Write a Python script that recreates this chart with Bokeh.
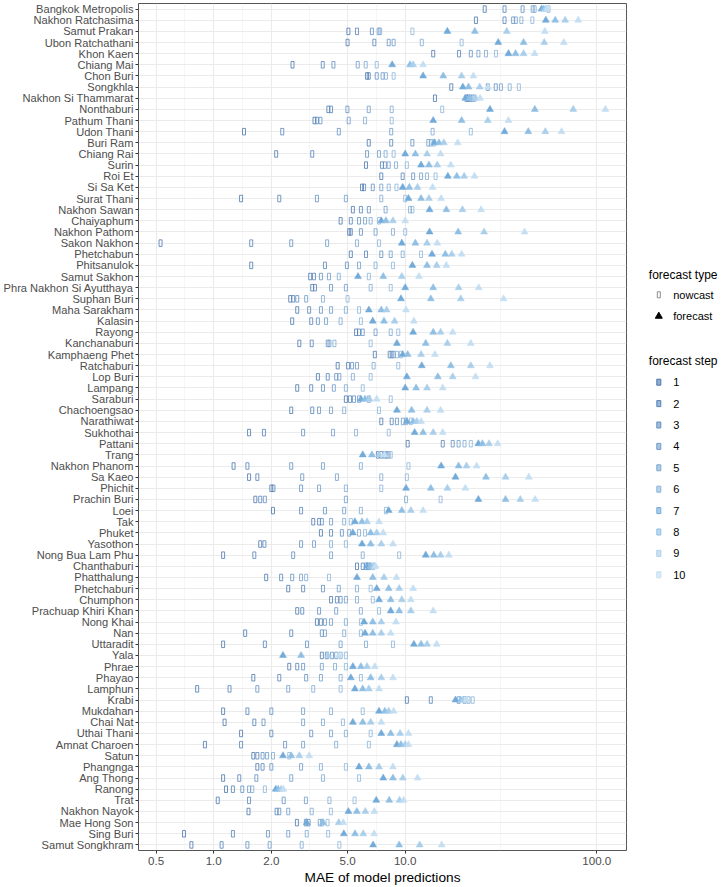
from bokeh.plotting import figure
from bokeh.models import Range1d, FactorRange, FixedTicker, PrintfTickFormatter, ColumnDataSource
from bokeh.layouts import row
from bokeh.core.properties import value
from bokeh.embed import file_html
from bokeh.resources import INLINE

provinces = [
    "Bangkok Metropolis", "Nakhon Ratchasima", "Samut Prakan", "Ubon Ratchathani", "Khon Kaen",
    "Chiang Mai", "Chon Buri", "Songkhla", "Nakhon Si Thammarat", "Nonthaburi", "Pathum Thani",
    "Udon Thani", "Buri Ram", "Chiang Rai", "Surin", "Roi Et", "Si Sa Ket", "Surat Thani",
    "Nakhon Sawan", "Chaiyaphum", "Nakhon Pathom", "Sakon Nakhon", "Phetchabun", "Phitsanulok",
    "Samut Sakhon", "Phra Nakhon Si Ayutthaya", "Suphan Buri", "Maha Sarakham", "Kalasin",
    "Rayong", "Kanchanaburi", "Kamphaeng Phet", "Ratchaburi", "Lop Buri", "Lampang", "Saraburi",
    "Chachoengsao", "Narathiwat", "Sukhothai", "Pattani", "Trang", "Nakhon Phanom", "Sa Kaeo",
    "Phichit", "Prachin Buri", "Loei", "Tak", "Phuket", "Yasothon", "Nong Bua Lam Phu",
    "Chanthaburi", "Phatthalung", "Phetchaburi", "Chumphon", "Prachuap Khiri Khan", "Nong Khai",
    "Nan", "Uttaradit", "Yala", "Phrae", "Phayao", "Lamphun", "Krabi", "Mukdahan", "Chai Nat",
    "Uthai Thani", "Amnat Charoen", "Satun", "Phangnga", "Ang Thong", "Ranong", "Trat",
    "Nakhon Nayok", "Mae Hong Son", "Sing Buri", "Samut Songkhram",
]

nowcast_steps = [1, 2, 3, 4, 5, 6]
forecast_steps = [7, 8, 9, 10]

# MAE per province (rows follow `provinces`), columns = nowcast steps 1..6
nowcast_mae = [
    [26.0, 33.0, 41.0, 46.3, 47.4, 56.0],
    [23.4, 33.0, 36.6, 37.8, 40.4, 46.1],
    [5.05, 5.6, 6.7, 7.27, 7.4, 10.9],
    [5.0, 6.9, 8.2, 8.7, 12.2, 19.7],
    [14.0, 19.1, 22.0, 24.1, 26.4, 29.8],
    [2.58, 3.71, 4.22, 5.65, 6.22, 7.1],
    [6.32, 6.45, 7.1, 7.62, 7.93, 8.7],
    [17.4, 27.0, 29.7, 31.6, 35.1, 39.2],
    [14.3, 20.9, 21.4, 21.9, 22.5, 23.0],
    [3.97, 4.10, 4.99, 6.45, 8.5, 15.6],
    [3.36, 3.46, 3.61, 5.07, 6.17, 8.5],
    [1.44, 2.28, 4.5, 8.45, 13.9, 22.0],
    [6.45, 8.45, 10.9, 13.2, 13.6, 14.1],
    [2.12, 3.27, 6.32, 7.3, 7.9, 8.7],
    [6.24, 7.56, 7.83, 8.2, 8.95, 10.2],
    [7.5, 9.7, 11.0, 12.1, 13.0, 14.4],
    [5.95, 6.1, 6.77, 7.5, 8.2, 9.0],
    [1.39, 2.2, 3.46, 4.9, 7.5, 10.0],
    [5.33, 5.87, 6.46, 7.9, 10.6, 10.9],
    [4.6, 5.2, 5.74, 6.17, 6.6, 7.3],
    [5.1, 5.2, 5.87, 7.0, 8.63, 10.0],
    [0.528, 1.57, 2.54, 3.91, 5.6, 7.3],
    [5.2, 6.24, 7.5, 8.4, 9.7, 12.1],
    [1.57, 3.81, 4.96, 5.74, 7.0, 8.63],
    [3.19, 3.34, 3.63, 4.0, 4.5, 6.46],
    [3.27, 3.38, 4.1, 4.9, 6.6, 8.4],
    [2.51, 2.60, 2.73, 3.04, 3.72, 5.0],
    [2.73, 3.15, 3.63, 4.1, 4.9, 5.74],
    [2.57, 3.23, 3.5, 3.86, 4.6, 5.87],
    [5.54, 5.74, 6.0, 7.0, 8.4, 9.2],
    [2.80, 3.25, 3.94, 4.02, 4.27, 6.6],
    [6.94, 8.3, 8.5, 8.7, 9.05, 9.5],
    [4.44, 5.03, 5.28, 5.6, 6.84, 9.2],
    [3.5, 3.94, 4.36, 4.53, 5.33, 6.6],
    [2.73, 3.23, 3.72, 4.24, 4.9, 6.0],
    [4.9, 5.15, 5.4, 5.74, 6.46, 8.4],
    [2.54, 3.27, 3.55, 4.1, 4.8, 7.3],
    [7.5, 8.5, 9.05, 9.72, 10.1, 10.7],
    [1.53, 1.83, 2.93, 4.2, 5.54, 8.2],
    [10.3, 15.7, 17.7, 19.0, 20.4, 22.0],
    [7.2, 7.5, 7.83, 8.0, 8.2, 8.4],
    [1.27, 1.5, 2.54, 3.72, 5.87, 10.4],
    [1.53, 1.69, 2.9, 4.4, 7.5, 10.2],
    [2.0, 2.05, 2.86, 3.55, 4.9, 7.5],
    [1.65, 1.75, 1.85, 4.9, 10.1, 15.3],
    [2.04, 2.86, 3.81, 4.8, 5.87, 7.93],
    [3.31, 3.55, 3.67, 4.1, 4.8, 5.2],
    [3.63, 4.1, 4.67, 5.1, 5.74, 6.17],
    [1.75, 1.84, 2.86, 3.34, 4.1, 4.9],
    [1.12, 1.63, 2.6, 4.1, 6.0, 9.3],
    [5.6, 6.0, 6.24, 6.4, 6.5, 6.8],
    [1.88, 2.25, 2.57, 2.86, 3.04, 4.0],
    [2.45, 2.93, 3.72, 4.5, 5.6, 6.6],
    [4.1, 4.4, 4.6, 4.9, 5.6, 6.77],
    [2.73, 2.9, 3.55, 4.36, 5.87, 7.3],
    [3.46, 3.63, 3.81, 4.1, 4.9, 5.87],
    [1.46, 2.54, 3.67, 3.81, 4.8, 5.87],
    [1.12, 1.85, 3.07, 4.6, 6.24, 8.63],
    [3.67, 3.9, 4.15, 4.36, 4.6, 4.9],
    [2.48, 2.73, 2.93, 3.67, 4.3, 4.9],
    [1.61, 2.2, 3.04, 3.63, 4.6, 5.87],
    [0.82, 1.21, 1.69, 2.45, 3.31, 4.6],
    [10.2, 13.6, 19.0, 20.4, 21.4, 22.5],
    [1.12, 1.5, 2.0, 2.93, 4.1, 6.0],
    [1.14, 1.63, 1.82, 2.93, 3.72, 4.73],
    [1.39, 2.0, 3.23, 4.1, 4.9, 6.6],
    [0.9, 1.39, 2.36, 2.93, 4.36, 6.46],
    [1.61, 1.69, 1.8, 1.9, 2.04, 2.48],
    [1.69, 1.8, 2.0, 2.86, 3.63, 4.9],
    [1.12, 1.36, 1.67, 2.54, 3.72, 5.74],
    [1.16, 1.26, 1.41, 1.53, 1.59, 1.85],
    [1.05, 1.53, 2.32, 3.03, 4.02, 5.44],
    [1.52, 2.13, 2.2, 2.45, 3.25, 4.09],
    [2.72, 3.03, 3.13, 3.58, 3.68, 3.93],
    [0.70, 1.26, 1.92, 2.45, 3.06, 3.96],
    [0.765, 1.10, 1.50, 1.96, 2.88, 4.53],
]

# MAE per province, columns = forecast steps 7..10
forecast_mae = [
    [51.5, 52.8, 54.1, 55.0],
    [54.2, 60.7, 68.4, 80.0],
    [16.6, 23.1, 33.9, 53.6],
    [30.6, 41.5, 53.2, 67.3],
    [34.6, 37.7, 41.5, 47.4],
    [8.55, 10.6, 11.0, 12.4],
    [12.4, 15.8, 19.7, 22.7],
    [20.0, 21.4, 24.5, 27.1],
    [20.6, 21.7, 23.3, 24.6],
    [27.7, 47.5, 75.4, 111.0],
    [14.0, 19.7, 27.0, 34.6],
    [33.0, 43.9, 53.9, 65.5],
    [14.2, 15.0, 15.9, 18.8],
    [10.0, 11.3, 13.0, 15.3],
    [12.1, 13.3, 14.7, 17.3],
    [16.7, 18.6, 20.3, 23.0],
    [9.7, 10.5, 11.6, 13.9],
    [10.4, 12.1, 13.3, 15.4],
    [13.4, 16.4, 19.9, 24.9],
    [7.5, 7.93, 8.63, 10.0],
    [13.4, 18.9, 25.8, 42.0],
    [9.6, 11.3, 13.0, 14.7],
    [13.8, 16.2, 17.5, 19.7],
    [10.9, 13.0, 14.6, 16.4],
    [5.67, 7.68, 9.6, 11.8],
    [10.0, 14.0, 19.0, 24.2],
    [9.5, 13.6, 19.5, 32.6],
    [6.46, 7.5, 8.0, 10.1],
    [6.77, 7.75, 8.8, 11.1],
    [11.0, 14.0, 15.3, 17.7],
    [9.05, 12.8, 16.6, 22.0],
    [9.7, 10.3, 12.1, 14.3],
    [12.2, 17.3, 22.0, 27.7],
    [10.2, 14.8, 17.7, 23.3],
    [10.0, 11.4, 13.0, 15.7],
    [5.87, 6.17, 6.5, 7.1],
    [9.05, 10.8, 13.0, 15.3],
    [10.2, 11.0, 11.5, 12.1],
    [11.2, 12.4, 14.0, 15.7],
    [24.1, 25.3, 27.4, 30.4],
    [6.0, 6.7, 7.3, 7.8],
    [15.4, 19.0, 20.9, 23.6],
    [18.3, 26.4, 33.4, 44.2],
    [10.1, 13.6, 16.6, 20.6],
    [24.1, 33.4, 39.9, 47.7],
    [8.2, 9.6, 10.7, 12.4],
    [5.46, 5.95, 6.32, 7.3],
    [5.33, 6.6, 7.1, 7.68],
    [5.95, 6.6, 7.5, 8.63],
    [12.8, 14.1, 15.3, 16.9],
    [6.32, 6.6, 6.85, 7.0],
    [5.6, 6.77, 7.75, 9.0],
    [7.1, 8.2, 9.3, 11.0],
    [7.3, 8.4, 9.6, 10.7],
    [8.4, 9.3, 10.7, 14.0],
    [6.1, 6.77, 7.5, 8.95],
    [6.17, 6.77, 7.5, 8.4],
    [11.1, 12.1, 13.0, 14.6],
    [2.3, 2.86, 3.95, 4.5],
    [5.33, 5.87, 6.32, 6.94],
    [5.2, 6.6, 7.5, 8.63],
    [5.46, 6.0, 6.46, 7.3],
    [18.3, 19.5, 20.0, 20.9],
    [7.3, 7.83, 8.2, 8.7],
    [5.33, 6.0, 6.6, 7.5],
    [7.5, 8.4, 9.4, 10.4],
    [9.05, 9.5, 10.0, 10.4],
    [2.3, 2.54, 2.8, 3.15],
    [5.74, 6.46, 7.3, 8.63],
    [7.68, 8.63, 9.72, 11.6],
    [2.11, 2.17, 2.25, 2.31],
    [7.06, 8.25, 9.34, 9.8],
    [5.05, 5.59, 6.19, 6.9],
    [3.06, 3.72, 4.5, 4.75],
    [4.78, 5.47, 6.04, 6.88],
    [6.8, 9.3, 11.9, 15.5],
]

x_ticks = [0.5, 1, 2, 5, 10, 100]
x_minor = [0.7071, 1.4142, 3.1623, 7.0711, 31.623]

step_colors = ["#4a77ad", "#5683b9", "#6290c2", "#6f9ccb", "#7da9d3", "#8cb5da",
               "#72aad9", "#90bfe4", "#aacfeb", "#c4def2"]

FONT = "Liberation Sans"

p = figure(width=640, height=887, x_axis_type="log",
           x_range=Range1d(0.405, 143), y_range=FactorRange(factors=list(reversed(provinces))),
           output_backend="svg", toolbar_location=None,
           min_border_left=137, min_border_right=14, min_border_top=3, min_border_bottom=37)
p.background_fill_color = "white"
p.outline_line_color = "#555555"
p.outline_line_width = 1

ticker = FixedTicker(ticks=x_ticks, minor_ticks=x_minor)
p.xaxis.ticker = ticker
p.xgrid.ticker = ticker
p.xaxis.formatter = PrintfTickFormatter(format="%.1f")
p.xgrid.grid_line_color = "#ebebeb"
p.xgrid.grid_line_width = 1.1
p.xgrid.minor_grid_line_color = "#f0f0f0"
p.xgrid.minor_grid_line_width = 0.6
p.ygrid.grid_line_color = "#ebebeb"
p.ygrid.grid_line_width = 1.1

for ax in (p.xaxis, p.yaxis):
    ax.axis_line_color = None
    ax.major_tick_line_color = "#333333"
    ax.major_tick_out = 3
    ax.major_tick_in = 0
    ax.minor_tick_line_color = None
    ax.major_label_text_font = FONT
    ax.major_label_text_color = "#4d4d4d"
    ax.major_label_standoff = 2
p.yaxis.major_label_text_font_size = "11.1px"
p.xaxis.major_label_text_font_size = "11.6px"
p.xaxis.axis_label = "MAE of model predictions"
p.xaxis.axis_label_text_font = FONT
p.xaxis.axis_label_text_font_size = "13.7px"
p.xaxis.axis_label_text_font_style = "normal"
p.xaxis.axis_label_text_color = "#000000"
p.xaxis.axis_label_standoff = 2

for j, s in enumerate(nowcast_steps):
    src = ColumnDataSource(dict(x=[r[j] for r in nowcast_mae], y=provinces))
    p.rect(x="x", y="y", width=3, height=6.5, width_units="screen", height_units="screen",
           fill_color=None, line_color=step_colors[s - 1], line_width=0.8, source=src)

for j, s in enumerate(forecast_steps):
    src = ColumnDataSource(dict(x=[r[j] for r in forecast_mae], y=provinces))
    p.scatter(x="x", y="y", marker="triangle", size=7, fill_color=step_colors[s - 1],
              line_color=step_colors[s - 1], line_width=0.5, source=src)

# legend panel; its frame lines up with the main frame (page y 3..850),
# so the y range is expressed directly in page pixels
lg = figure(width=88, height=887, x_range=Range1d(0, 88), y_range=Range1d(850, 3),
            x_axis_location=None, y_axis_location=None,
            output_backend="svg", toolbar_location=None,
            min_border_left=0, min_border_right=0, min_border_top=3, min_border_bottom=37)
lg.grid.visible = False
lg.outline_line_color = None

lg.text(x=[8.3, 8.3], y=[274, 360.7], text=["forecast type", "forecast step"],
        text_font=value(FONT), text_font_size="12px", text_baseline="middle",
        text_align="left", text_color="#000000")
lg.text(x=[32.7, 32.7], y=[294.3, 315.7], text=["nowcast", "forecast"],
        text_font=value(FONT), text_font_size="11px", text_baseline="middle",
        text_align="left", text_color="#000000")
lg.rect(x=[18.3], y=[294.3], width=3, height=6, width_units="screen", height_units="screen",
        fill_color=None, line_color="#8c8c8c", line_width=1)
lg.scatter(x=[18.3], y=[315.7], marker="triangle", size=7, fill_color="#000000", line_color="#000000")

steps = list(range(1, 11))
step_y = [381.7 + 21.4 * i for i in range(10)]
lg.text(x=[32.7] * 10, y=step_y, text=[str(s) for s in steps],
        text_font=value(FONT), text_font_size="11px", text_baseline="middle",
        text_align="left", text_color="#000000")
lg.rect(x=[18.3] * 10, y=step_y, width=4, height=6, width_units="screen", height_units="screen",
        fill_color=step_colors, fill_alpha=0.6, line_color=step_colors, line_width=1)

layout = row(p, lg)
open("out.html", "w").write(file_html(layout, INLINE))
